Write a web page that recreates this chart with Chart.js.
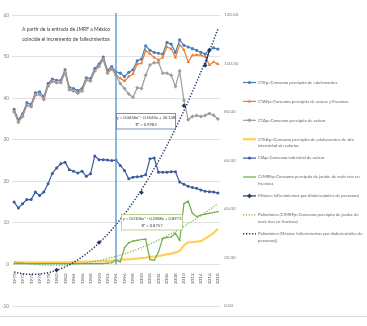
<!DOCTYPE html>
<html>
<head>
<meta charset="utf-8">
<script src="https://cdn.jsdelivr.net/npm/chart.js@4.4.0/dist/chart.umd.min.js"></script>
<style>
  html, body { margin: 0; padding: 0; background: #fff; }
  #wrap { position: relative; width: 367px; height: 326px; }
</style>
</head>
<body>
<div id="wrap"><canvas id="chart" width="367" height="326"></canvas></div>
<script>
// Years on the category axis
const years = [
  '1970','1971','1972','1973','1974','1975','1976','1977','1978','1979',
  '1980','1981','1982','1983','1984','1985','1986','1987','1988','1989',
  '1990','1991','1992','1993','1994','1995','1996','1997','1998','1999',
  '2000','2001','2002','2003','2004','2005','2006','2007','2008','2009',
  '2010','2011','2012','2013','2014','2015','2016','2017','2018'
];

// kg per capita, left axis
const edulcorantes = [
  37.3, 34.8, 36.2, 38.9, 38.5, 41.3, 41.5, 40.3, 43.5, 44.6,
  44.3, 44.3, 46.8, 42.6, 42.3, 41.8, 42.3, 44.9, 44.7, 47.1,
  48.2, 49.9, 46.7, 47.6, 46.3, 46.0, 45.2, 46.2, 46.8, 49.0,
  49.4, 52.6, 51.5, 51.0, 50.8, 50.6, 53.4, 53.0, 51.0, 54.0,
  52.7, 52.3, 51.9, 51.5, 51.0, 50.6, 51.6, 52.1, 51.8
];
const azucarFructosa = [
  36.8, 34.3, 35.7, 38.4, 38.0, 40.8, 41.0, 39.8, 43.0, 44.1,
  43.8, 43.8, 46.3, 42.1, 41.8, 41.3, 41.8, 44.4, 44.2, 46.6,
  47.7, 49.4, 46.2, 47.2, 45.6, 44.8, 44.1, 45.2, 45.8, 48.2,
  48.4, 51.4, 50.7, 49.8, 49.2, 49.8, 52.3, 51.9, 49.8, 52.8,
  51.6, 48.7, 50.3, 50.4, 50.3, 50.0, 48.0, 48.7, 48.2
];
const azucar = [
  36.7, 34.2, 35.6, 38.3, 37.9, 40.7, 40.9, 39.7, 42.9, 44.0,
  43.7, 43.7, 46.2, 42.0, 41.7, 41.2, 41.7, 44.3, 44.1, 46.5,
  47.6, 49.3, 46.0, 47.0, 45.5, 43.5, 42.3, 41.0, 40.2, 42.5,
  42.3, 45.5, 48.0, 48.5, 48.6, 46.0, 46.0, 45.5, 42.8, 46.5,
  39.5, 34.8, 35.6, 35.8, 35.6, 35.8, 36.3, 35.9, 35.0
];
const altaIntensidad = [
  0.5, 0.5, 0.5, 0.5, 0.5, 0.5, 0.5, 0.5, 0.5, 0.5,
  0.5, 0.5, 0.5, 0.5, 0.6, 0.6, 0.6, 0.7, 0.7, 0.7,
  0.7, 0.8, 0.8, 0.9, 1.0, 1.1, 1.2, 1.2, 1.3, 1.4,
  1.5, 1.6, 1.8, 1.9, 2.0, 2.2, 2.4, 2.6, 2.9, 3.2,
  4.6, 5.3, 5.4, 5.5, 5.6, 6.2, 6.8, 7.6, 8.6
];
const industrialAzucar = [
  15.0, 13.6, 14.6, 15.6, 15.6, 17.4, 16.6, 17.4, 19.4, 21.9,
  23.2, 24.2, 24.6, 22.8, 22.4, 22.0, 22.4, 21.2, 21.8, 26.1,
  25.2, 25.2, 25.1, 25.0, 25.1, 23.8, 22.6, 20.6, 21.0, 21.1,
  21.2, 21.6, 25.4, 25.6, 22.2, 22.2, 22.2, 22.3, 22.3, 19.8,
  19.3, 18.8, 18.5, 18.3, 17.9, 17.6, 17.5, 17.4, 17.2
];
const jarabeMaiz = [
  0.2, 0.2, 0.2, 0.2, 0.2, 0.2, 0.2, 0.2, 0.2, 0.2,
  0.2, 0.2, 0.2, 0.2, 0.2, 0.2, 0.2, 0.2, 0.2, 0.2,
  0.2, 0.2, 0.3, 0.4, 1.0, 0.6, 4.0, 5.2, 5.6, 5.8,
  6.0, 6.1, 1.2, 1.0, 3.0, 6.2, 6.5, 6.6, 7.5, 5.8,
  14.6, 15.2, 12.3, 11.5, 11.9, 12.1, 12.3, 12.5, 12.7
];

// thousands of deaths, right axis (only some years reported)
const fallecimientos = [
  null, null, null, null, null, null, null, null, null, null,
  14.8, null, null, null, null, null, null, null, null, null,
  26.2, null, null, null, null, null, null, null, null, null,
  46.8, null, null, null, null, null, null, null, null, null,
  82.6, null, null, null, null, 99.2, 105.5, null, null
];

const seriesNames = [
  'CTEp=Consumo percápita de edulcorantes',
  'CTAFp=Consumo percápita de azúcar y Fructosa',
  'CTAp=Consumo percápita de azúcar',
  'CTEAp=Consumo percápita de edulcorantes de alta\nintensidad sin calorías',
  'CIAp=Consumo industrial de azúcar',
  'CJMRFp=Consumo percápita de jarabe de maíz rico en\nfructosa',
  'México: fallecimientos por diabetes(miles de personas)',
  'Polinómica (CJMRFp=Consumo percápita de jarabe de\nmaíz rico en fructosa)',
  'Polinómica (México: fallecimientos por diabetes(miles de\npersonas))'
];

const markYear = '1994';

// second degree least squares trend, x = 1..n over the non empty points
function quadTrend(values) {
  const s = [0, 0, 0, 0, 0];
  const t = [0, 0, 0];
  values.forEach((v, i) => {
    if (v === null) return;
    const x = i + 1;
    for (let k = 0; k < 5; k++) s[k] += Math.pow(x, k);
    for (let k = 0; k < 3; k++) t[k] += v * Math.pow(x, k);
  });
  const m = [
    [s[4], s[3], s[2], t[2]],
    [s[3], s[2], s[1], t[1]],
    [s[2], s[1], s[0], t[0]],
  ];
  for (let c = 0; c < 3; c++) {
    for (let r = c + 1; r < 3; r++) {
      const f = m[r][c] / m[c][c];
      for (let k = c; k < 4; k++) m[r][k] -= f * m[c][k];
    }
  }
  const coef = [0, 0, 0];
  for (let r = 2; r >= 0; r--) {
    let sum = m[r][3];
    for (let k = r + 1; k < 3; k++) sum -= m[r][k] * coef[k];
    coef[r] = sum / m[r][r];
  }
  const [a, b, c] = coef;
  return values.map((_, i) => {
    const x = i + 1;
    return a * x * x + b * x + c;
  });
}

const FONT = 'Lato';
Chart.defaults.font.family = FONT;

const lineSet = (idx, data, color, extra) => Object.assign({
  label: seriesNames[idx],
  data: data,
  borderColor: color,
  backgroundColor: color,
  borderWidth: 1.2,
  pointRadius: 0,
  pointBorderWidth: 0,
  pointStyle: 'circle',
  tension: 0,
  yAxisID: 'y',
  order: 20 - idx,
}, extra || {});

const datasets = [
  lineSet(0, edulcorantes, '#4a7ebb', { pointRadius: 1.6 }),
  lineSet(1, azucarFructosa, '#ed7d31', { pointRadius: 2, pointStyle: 'triangle' }),
  lineSet(2, azucar, '#9d9d9d', { pointRadius: 2, pointStyle: 'rectRot' }),
  lineSet(3, altaIntensidad, 'rgba(255, 199, 60, 0.85)', { borderWidth: 2.2 }),
  lineSet(4, industrialAzucar, '#3a5ba0', { pointRadius: 1.5 }),
  lineSet(5, jarabeMaiz, '#6fae44', { pointRadius: 0.8 }),
  lineSet(6, fallecimientos, '#203864', { pointRadius: 2.3, pointStyle: 'rectRot', yAxisID: 'y2', spanGaps: false }),
  lineSet(7, quadTrend(jarabeMaiz), '#6fae44', { borderWidth: 1.2, borderDash: [1.2, 1.6] }),
  lineSet(8, quadTrend(fallecimientos), '#203864', { borderWidth: 1.5, borderDash: [1.3, 1.7], yAxisID: 'y2' }),
];

// white page, outer frame line, vertical marker at 1994 and text notes
const decorPlugin = {
  id: 'decor',
  beforeDraw(chart) {
    const ctx = chart.ctx;
    ctx.save();
    ctx.fillStyle = '#fff';
    ctx.fillRect(0, 0, chart.width, chart.height);
    ctx.strokeStyle = '#d9d9d9';
    ctx.lineWidth = 1;
    ctx.beginPath();
    ctx.moveTo(0, 316.5);
    ctx.lineTo(chart.width, 316.5);
    ctx.stroke();
    ctx.restore();
  },
  afterDraw(chart) {
    const ctx = chart.ctx;
    const xs = chart.scales.x;
    const ys = chart.scales.y;
    ctx.save();

    // 1994 marker line
    const mx = xs.getPixelForValue(years.indexOf(markYear));
    ctx.strokeStyle = '#5b9bd5';
    ctx.lineWidth = 1.4;
    ctx.beginPath();
    ctx.moveTo(mx, chart.chartArea.top - 2);
    ctx.lineTo(mx, ys.getPixelForValue(0));
    ctx.stroke();

    // note
    ctx.fillStyle = '#404040';
    ctx.font = '5px ' + FONT;
    ctx.textBaseline = 'middle';
    ctx.fillText('A partir de la entrada de JMRF a México', 22, 29.5);
    ctx.fillText('coincide el incremento de fallecimientos', 22, 39);

    // trend equations
    const eqBox = (x, y, w, h, border, l1, l2) => {
      ctx.fillStyle = '#fff';
      ctx.fillRect(x, y, w, h);
      ctx.strokeStyle = border;
      ctx.lineWidth = 0.8;
      ctx.strokeRect(x, y, w, h);
      ctx.fillStyle = '#404040';
      ctx.font = '4.1px ' + FONT;
      ctx.textAlign = 'center';
      ctx.fillText(l1, x + w / 2, y + 4.5);
      ctx.fillText(l2, x + w / 2, y + 11.5);
      ctx.textAlign = 'left';
    };
    eqBox(116.5, 113.5, 59, 15.5, '#5a7bb0', 'y = 0.0636x² - 0.5563x + 34.148', 'R² = 0.9983');
    eqBox(121.5, 214.5, 61, 15.5, '#a9c97a', 'y = 0.0106x² - 0.2388x + 0.8973', 'R² = 0.8757');

    // legend at the right
    ctx.font = '4.25px ' + FONT;
    ctx.textBaseline = 'middle';
    chart.data.datasets.forEach((ds, i) => {
      const y = 82.5 + i * 18.9;
      ctx.strokeStyle = ds.borderColor;
      ctx.fillStyle = ds.borderColor;
      ctx.lineWidth = ds.borderWidth;
      ctx.setLineDash(ds.borderDash || []);
      ctx.beginPath();
      ctx.moveTo(243, y);
      ctx.lineTo(256, y);
      ctx.stroke();
      ctx.setLineDash([]);
      if (ds.pointRadius > 0.9) {
        Chart.helpers.drawPoint(ctx, {
          pointStyle: ds.pointStyle, radius: ds.pointRadius, rotation: 0, borderWidth: 0,
        }, 249.5, y);
      }
      ctx.fillStyle = '#666666';
      seriesNames[i].split('\n').forEach((line, k) => {
        ctx.fillText(line, 258, y + k * 6.6);
      });
    });
    ctx.restore();
  }
};

new Chart(document.getElementById('chart'), {
  type: 'line',
  data: { labels: years, datasets: datasets },
  options: {
    responsive: false,
    animation: false,
    events: [],
    layout: { padding: { left: 0, right: 127, top: 15, bottom: 20 } },
    plugins: {
      legend: { display: false },
      tooltip: { enabled: false },
    },
    scales: {
      x: {
        position: { y: 0 },
        offset: true,
        grid: { display: false },
        border: { display: false },
        ticks: {
          autoSkip: false,
          minRotation: 90,
          maxRotation: 90,
          padding: 1,
          color: '#595959',
          font: { size: 4.6 },
          callback: (v, i) => (i % 2 === 0 ? years[i] : ''),
        },
      },
      y: {
        position: 'left',
        min: -10,
        max: 60,
        ticks: { stepSize: 10, color: '#7f7f7f', font: { size: 4.8 }, padding: 3 },
        grid: { color: '#d9d9d9', lineWidth: 0.8, drawTicks: false },
        border: { display: false },
        afterFit: (s) => { s.width = 12; },
      },
      y2: {
        position: 'right',
        min: 0,
        max: 120,
        ticks: {
          stepSize: 20, color: '#7f7f7f', font: { size: 4.6 }, padding: 4,
          callback: (v) => v.toFixed(2),
        },
        grid: { display: false, drawTicks: false },
        border: { display: false },
        afterFit: (s) => { s.width = 20; },
      },
    },
  },
  plugins: [decorPlugin],
});
</script>
</body>
</html>
